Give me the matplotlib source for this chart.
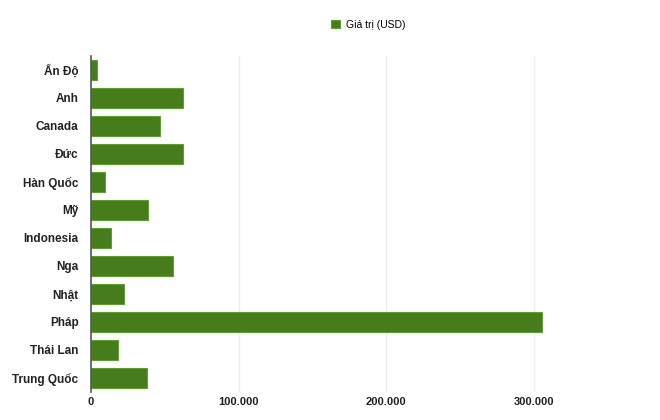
import matplotlib
matplotlib.use("Agg")
from matplotlib import pyplot as plt
from matplotlib.ticker import FuncFormatter

countries = ["Ấn Độ", "Anh", "Canada", "Đức", "Hàn Quốc", "Mỹ", "Indonesia",
             "Nga", "Nhật", "Pháp", "Thái Lan", "Trung Quốc"]
values = [3800, 62600, 46800, 62000, 9500, 38300, 13500,
          55600, 22500, 305600, 18400, 37800]
xticks = [0, 100000, 200000, 300000]

plt.rcParams["font.family"] = ["Liberation Sans", "DejaVu Sans"]

fig = plt.figure(figsize=(6.6, 4.2), dpi=100)
ax = fig.add_axes([0.138, 0.067, 0.832, 0.8])

ypos = list(range(len(countries)))
ax.barh(ypos, values, height=0.7, color="#477c1d", edgecolor="#5f9e30",
        linewidth=0.8, label="Giá trị (USD)", zorder=3)
ax.set_yticks(ypos)
ax.set_yticklabels(countries, fontsize=8.5, fontweight="bold", color="#222222")
ax.set_ylim(len(countries) - 0.5, -0.5)
ax.set_xlim(0, 372000)
ax.set_xticks(xticks)
ax.xaxis.set_major_formatter(FuncFormatter(lambda v, p: f"{int(v):,}".replace(",", ".")))
for t in ax.get_xticklabels():
    t.set_fontsize(8)
    t.set_fontweight("bold")
    t.set_color("#222222")

ax.grid(axis="x", color="#eeeeee", linewidth=1, zorder=0)
ax.tick_params(axis="y", length=0, pad=9)
ax.tick_params(axis="x", length=0, pad=4)
for s in ["top", "right", "bottom"]:
    ax.spines[s].set_visible(False)
ax.spines["left"].set_color("#555555")
ax.spines["left"].set_linewidth(1.2)
ax.spines["left"].set_zorder(4)

fig.legend(loc="upper center", bbox_to_anchor=(0.558, 0.975), frameon=False,
           fontsize=7.5, handlelength=0.8, handleheight=0.8, handletextpad=0.6)

fig.savefig("out.png", dpi=100)
